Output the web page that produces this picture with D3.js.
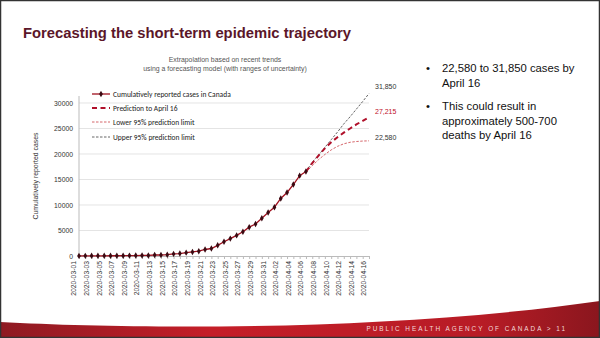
<!DOCTYPE html>
<html><head><meta charset="utf-8">
<script src="https://cdn.jsdelivr.net/npm/d3@7/dist/d3.min.js"></script>
<style>body{margin:0;background:#fff}svg{display:block}</style>
</head><body><svg id="c" width="600" height="338"></svg>
<script>
const dates = ["2020-03-01","2020-03-02","2020-03-03","2020-03-04","2020-03-05","2020-03-06","2020-03-07","2020-03-08","2020-03-09","2020-03-10","2020-03-11","2020-03-12","2020-03-13","2020-03-14","2020-03-15","2020-03-16","2020-03-17","2020-03-18","2020-03-19","2020-03-20","2020-03-21","2020-03-22","2020-03-23","2020-03-24","2020-03-25","2020-03-26","2020-03-27","2020-03-28","2020-03-29","2020-03-30","2020-03-31","2020-04-01","2020-04-02","2020-04-03","2020-04-04","2020-04-05","2020-04-06","2020-04-07","2020-04-08","2020-04-09","2020-04-10","2020-04-11","2020-04-12","2020-04-13","2020-04-14","2020-04-15","2020-04-16"];
const reported = [24,27,30,33,37,49,54,64,77,79,108,117,193,198,252,415,478,657,800,943,1277,1469,2091,2792,3409,4043,4757,5655,6280,7398,8527,9560,11284,12437,14018,15756,16563];
const predDates = ["2020-04-06","2020-04-07","2020-04-08","2020-04-09","2020-04-10","2020-04-11","2020-04-12","2020-04-13","2020-04-14","2020-04-15","2020-04-16"];
const prediction = [16563,18200,19700,21100,22300,23300,24200,25000,25800,26500,27215];
const lower95 = [16563,17700,18900,19900,20800,21500,22000,22300,22450,22540,22580];
const upper95 = [16563,18400,19800,21300,22800,24300,25900,27300,28800,30300,31850];
const yTicks = [0,5000,10000,15000,20000,25000,30000];
const endLabels = ["31,850","27,215","22,580"];
const legendLabels = ["Cumulatively reported cases in Canada","Prediction to April 16","Lower 95% prediction limit","Upper 95% prediction limit"];
const bullets = [["22,580 to 31,850 cases by","April 16"],["This could result in","approximately 500-700","deaths by April 16"]];

const svg = d3.select("#c");
const defs = svg.append("defs");
const g1 = defs.append("linearGradient").attr("id","rg").attr("x1","0").attr("x2","1");
g1.append("stop").attr("offset","0").attr("stop-color","#8e1a22");
g1.append("stop").attr("offset","0.35").attr("stop-color","#c41e28");
g1.append("stop").attr("offset","0.8").attr("stop-color","#b81c26");
g1.append("stop").attr("offset","1").attr("stop-color","#8a161e");
svg.append("path").attr("d","M0,322 C150,330 400,330 600,301 L600,338 L0,338 Z").attr("fill","url(#rg)");
svg.append("text").attr("x",567).attr("y",331).attr("text-anchor","end").attr("fill","#f4d8d8")
  .attr("font-family","Liberation Sans, Arial").attr("font-size",6.4).attr("letter-spacing",2)
  .text("PUBLIC HEALTH AGENCY OF CANADA  >  11");
svg.append("rect").attr("x",0.5).attr("y",0.5).attr("width",599).attr("height",337).attr("fill","none").attr("stroke","#333").attr("stroke-width",1.5);

svg.append("text").attr("x",23).attr("y",38).attr("fill","#5b1629").attr("font-family","Liberation Sans, Arial")
  .attr("font-weight","bold").attr("font-size",14.8).text("Forecasting the short-term epidemic trajectory");

svg.append("text").attr("x",225).attr("y",62).attr("text-anchor","middle").attr("fill","#555").attr("font-family","Liberation Sans, Arial").attr("font-size",6.9).text("Extrapolation based on recent trends");
svg.append("text").attr("x",225).attr("y",71).attr("text-anchor","middle").attr("fill","#555").attr("font-family","Liberation Sans, Arial").attr("font-size",6.9).text("using a forecasting model (with ranges of uncertainty)");

const parse = d3.timeParse("%Y-%m-%d");
const x = d3.scaleTime().domain([parse(dates[0]), parse(dates[dates.length-1])]).range([79,369]);
const y = d3.scaleLinear().domain([0,30000]).range([256,103]);

const grid = svg.append("g");
yTicks.forEach(t=>{ if(t>0) grid.append("line").attr("x1",79).attr("x2",369).attr("y1",y(t)).attr("y2",y(t)).attr("stroke","#d9d9d9").attr("stroke-width",0.7);});

const yAx = svg.append("g").attr("transform","translate(79,0)").call(d3.axisLeft(y).tickValues(yTicks).tickFormat(d3.format("d")).tickSize(0).tickPadding(6));
yAx.select(".domain").attr("stroke","#bbb").attr("d","M0,96V256");
yAx.selectAll("text").attr("font-family","Liberation Sans, Arial").attr("font-size",6.8).attr("fill","#333");

const xTickVals = dates.filter((d,i)=>i%2===0).map(parse);
const xAx = svg.append("g").attr("transform","translate(0,256)").call(d3.axisBottom(x).tickValues(dates.map(parse)).tickSize(3).tickFormat(d=> xTickVals.some(v=>+v===+d)? d3.timeFormat("%Y-%m-%d")(d):""));
xAx.select(".domain").attr("stroke","#bbb");
xAx.selectAll("line").attr("stroke","#bbb");
xAx.selectAll("text").attr("font-family","Liberation Sans, Arial").attr("font-size",6.8).attr("fill","#333")
  .attr("transform","rotate(-90)").attr("text-anchor","end").attr("dx","-5").attr("dy","-0.45em").attr("y",0);

svg.append("text").attr("transform","translate(38,176) rotate(-90)").attr("text-anchor","middle").attr("font-family","Liberation Sans, Arial").attr("font-size",6.9).attr("fill","#333").text("Cumulatively reported cases");

const line = d3.line().x(d=>x(parse(d[0]))).y(d=>y(d[1]));
const rep = dates.slice(0,reported.length).map((d,i)=>[d,reported[i]]);
const mk = (arr)=>predDates.map((d,i)=>[d,arr[i]]);
svg.append("path").attr("d",line(mk(lower95))).attr("fill","none").attr("stroke","#d0555a").attr("stroke-width",0.9).attr("stroke-dasharray","2.5,1.5");
svg.append("path").attr("d",line(mk(upper95))).attr("fill","none").attr("stroke","#555").attr("stroke-width",0.9).attr("stroke-dasharray","2.5,1.5");
svg.append("path").attr("d",line(mk(prediction))).attr("fill","none").attr("stroke","#b0102a").attr("stroke-width",2).attr("stroke-dasharray","5,3.5");
svg.append("path").attr("d",line(rep)).attr("fill","none").attr("stroke","#a0101e").attr("stroke-width",1.3);
svg.selectAll(".pt").data(rep).enter().append("path").attr("class","pt")
  .attr("transform",d=>`translate(${x(parse(d[0]))},${y(d[1])})`).attr("d",d3.symbol(d3.symbolDiamond,12)()).attr("fill","#3a0a12");

const endCols = ["#333","#c0102a","#333"];
const endY = [89,114,140];
endLabels.forEach((t,i)=>svg.append("text").attr("x",375).attr("y",endY[i]).attr("font-family","Liberation Sans, Arial").attr("font-size",7).attr("fill",endCols[i]).text(t));

const lg = svg.append("g");
const lStyles = [{c:"#a0101e",w:1.3,d:null},{c:"#b0102a",w:2,d:"5,3.5"},{c:"#d0555a",w:0.9,d:"2.5,1.5"},{c:"#555",w:0.9,d:"2.5,1.5"}];
const lY = [94,108,122,137];
legendLabels.forEach((t,i)=>{
  const l = lg.append("line").attr("x1",92).attr("x2",110).attr("y1",lY[i]).attr("y2",lY[i]).attr("stroke",lStyles[i].c).attr("stroke-width",lStyles[i].w);
  if(lStyles[i].d) l.attr("stroke-dasharray",lStyles[i].d);
  if(i===0) lg.append("path").attr("transform",`translate(101,${lY[i]})`).attr("d",d3.symbol(d3.symbolDiamond,12)()).attr("fill","#3a0a12");
  lg.append("text").attr("x",113).attr("y",lY[i]+2.5).attr("font-family","Carlito, Lato, sans-serif").attr("font-size",7.5).attr("fill","#222").text(t);
});

let by = 72;
bullets.forEach((b)=>{
  svg.append("text").attr("x",426).attr("y",by).attr("font-family","Liberation Sans, Arial").attr("font-size",11.3).attr("fill","#111").text("•");
  b.forEach((s,j)=>{
    svg.append("text").attr("x",442).attr("y",by+j*14.5).attr("font-family","Liberation Sans, Arial").attr("font-size",11.3).attr("fill","#111").text(s);
  });
  by += b.length*14.5 + 9;
});
</script></body></html>
